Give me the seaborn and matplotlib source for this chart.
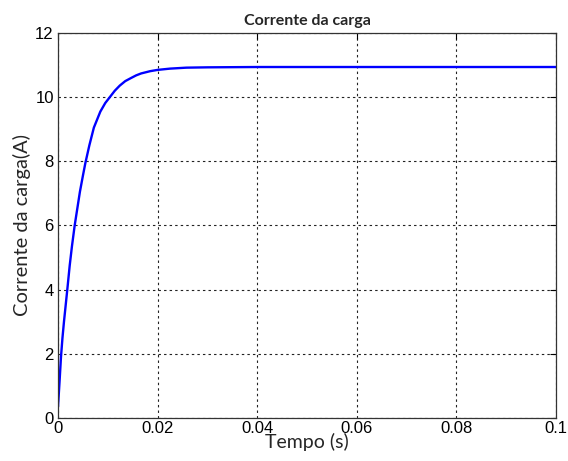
import matplotlib
matplotlib.use("Agg")
import matplotlib.pyplot as plt
import seaborn as sns
import pandas as pd

# Load current response (time in s, current in A)
tempo = [0.0, 0.0003, 0.0006, 0.0009, 0.0012, 0.0016, 0.0019, 0.00235, 0.0028,
         0.00335, 0.0039, 0.0044, 0.0050, 0.0055, 0.0063, 0.0072, 0.0085, 0.0095,
         0.0104, 0.0114, 0.0124, 0.0135, 0.0147, 0.0157, 0.0167, 0.0185, 0.0200,
         0.0225, 0.0258, 0.030, 0.040, 0.050, 0.060, 0.070, 0.080, 0.090, 0.100]
corrente = [0.35, 1.1, 1.9, 2.5, 3.0, 3.6, 4.05, 4.75, 5.35,
            6.0, 6.55, 7.05, 7.55, 7.95, 8.5, 9.05, 9.55, 9.82,
            10.0, 10.2, 10.36, 10.5, 10.6, 10.68, 10.74, 10.81, 10.85,
            10.89, 10.92, 10.93, 10.94, 10.94, 10.94, 10.94, 10.94, 10.94, 10.94]

xticks = [0, 0.02, 0.04, 0.06, 0.08, 0.1]
xticklabels = ["0", "0.02", "0.04", "0.06", "0.08", "0.1"]
yticks = [0, 2, 4, 6, 8, 10, 12]

df = pd.DataFrame({"Tempo (s)": tempo, "Corrente": corrente})

sns.set_style("white")
plt.rcParams["font.family"] = ["Liberation Sans", "DejaVu Sans"]

fig = plt.figure(figsize=(5.68, 4.61), dpi=100)
ax = fig.add_axes([0.1021, 0.0933, 0.8768, 0.8351])

sns.lineplot(data=df, x="Tempo (s)", y="Corrente", ax=ax, color="#0000FF",
             linewidth=1.7, estimator=None, sort=False)

ax.set_xlim(0, 0.1)
ax.set_ylim(0, 12)
ax.set_xticks(xticks)
ax.set_xticklabels(xticklabels)
ax.set_yticks(yticks)
ax.tick_params(direction="in", length=4, width=0.8, top=True, right=True,
               labelsize=12, colors="black", pad=3)
ax.tick_params(axis="x", pad=2)

ax.grid(True, color="#222222", linestyle=(0, (2.2, 2.8)), linewidth=0.8)
for s in ax.spines.values():
    s.set_color("#333333")
    s.set_linewidth(0.9)

ax.set_xlabel("Tempo (s)", fontsize=14, family=["Lato", "DejaVu Sans"], labelpad=-2)
ax.set_ylabel("Corrente da carga(A)", fontsize=14.5, family=["Lato", "DejaVu Sans"], labelpad=3)
ax.set_title("Corrente da carga", fontsize=11.5, fontweight="bold",
             family=["Lato", "DejaVu Sans"], pad=6)

fig.savefig("out.png", dpi=100)
